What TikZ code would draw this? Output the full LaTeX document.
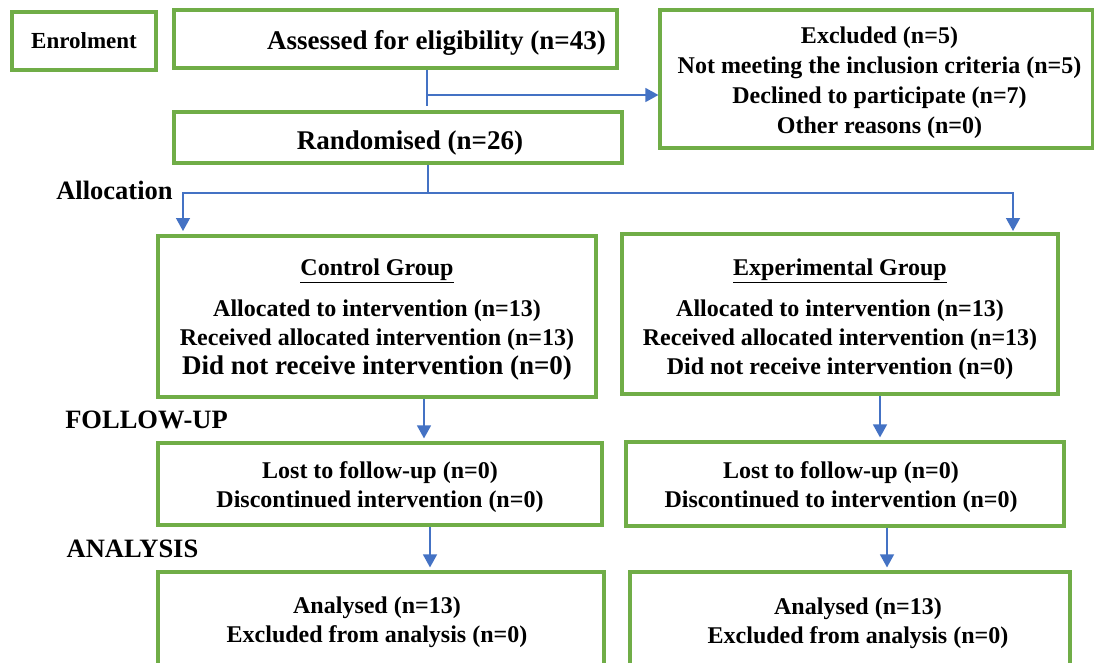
\documentclass[tikz,border=0pt]{standalone}
\usepackage{fontspec}
\setmainfont{Liberation Serif}
\usetikzlibrary{arrows.meta}
\definecolor{boxgreen}{HTML}{70AD47}
\definecolor{arrblue}{HTML}{4472C4}
\begin{document}
\begin{tikzpicture}[x=1pt,y=-1pt,
  box/.style={draw=boxgreen, line width=3.2pt, fill=white, inner sep=0pt},
  txt/.style={inner sep=0pt, align=center, font=\bfseries\fontsize{24}{29}\selectfont},
  conn/.style={draw=arrblue, line width=1.4pt},
  arr/.style={conn, -{Triangle[width=14pt,length=13pt]}},
  lab/.style={font=\bfseries\fontsize{26.5}{30}\selectfont, inner sep=0pt}]
\fill[white] (0,0) rectangle (1094,662);
\clip (0,0) rectangle (1094,662);

% boxes
\node[box, minimum width=144, minimum height=58] (enrol) at (84,41) {};
\node[box, minimum width=443, minimum height=58] (assess) at (395.5,39) {};
\node[box, minimum width=433, minimum height=138] (excl) at (876.5,79) {};
\node[box, minimum width=448, minimum height=51] (rand) at (398,137.5) {};
\node[box, minimum width=438, minimum height=161] (ctrl) at (377,316.5) {};
\node[box, minimum width=436, minimum height=160] (expt) at (840,314) {};
\node[box, minimum width=444, minimum height=82] (lostc) at (380,484) {};
\node[box, minimum width=438, minimum height=84] (loste) at (845,484) {};
\node[box, minimum width=446, minimum height=98] (anac) at (381,621) {};
\node[box, minimum width=440, minimum height=98] (anae) at (850,621) {};

% texts
\node[txt, font=\bfseries\fontsize{23}{27}\selectfont] (tenrol) at (enrol.center) {Enrolment};
\node[txt, font=\bfseries\fontsize{27}{32}\selectfont] (tassess) at ([xshift=41pt,yshift=-4pt]assess.center)
  {Assessed for eligibility (n=43)};
\node[txt, font=\bfseries\fontsize{24}{30}\selectfont] (texcl) at ([xshift=3pt,yshift=-4pt]excl.center)
  {Excluded (n=5)\\Not meeting the inclusion criteria (n=5)\\Declined to participate (n=7)\\Other reasons (n=0)};
\node[txt, font=\bfseries\fontsize{27}{32}\selectfont] (trand) at ([xshift=12pt,yshift=-6pt]rand.center)
  {Randomised (n=26)};
\node[txt] (tctrl) at ([yshift=-3pt]ctrl.center)
  {\underline{Control Group}\\[12pt]Allocated to intervention (n=13)\\Received allocated intervention (n=13)\\
   {\fontsize{27}{31}\selectfont Did not receive intervention (n=0)}};
\node[txt] (texpt) at ([yshift=-5pt]expt.center)
  {\underline{Experimental Group}\\[12pt]Allocated to intervention (n=13)\\Received allocated intervention (n=13)\\
   Did not receive intervention (n=0)};
\node[txt] (tlostc) at ([yshift=-3.5pt]lostc.center)
  {Lost to follow-up (n=0)\\Discontinued intervention (n=0)};
\node[txt] (tloste) at ([xshift=-4pt,yshift=-3.5pt]loste.center)
  {Lost to follow-up (n=0)\\Discontinued to intervention (n=0)};
\node[txt] (tanac) at ([xshift=-4pt,yshift=-1pt]anac.center)
  {Analysed (n=13)\\Excluded from analysis (n=0)};
\node[txt] (tanae) at ([xshift=8pt,yshift=-2pt]anae.center)
  {Analysed (n=13)\\Excluded from analysis (n=0)};

% stage labels
\node[lab] (alloc) at (114.5,190) {Allocation};
\node[lab] (fup) at (146.5,420) {FOLLOW-UP};
\node[lab] (anal) at (132.5,549) {ANALYSIS};

% connectors
\coordinate (j1) at (427,95);
\draw[conn, shorten >=4pt] (assess.south -| j1) -- (rand.north -| j1);
\draw[arr] (j1) -- (excl.west |- j1);

\coordinate (j2) at (428,193);
\coordinate (ca) at (183,231);
\coordinate (ea) at (1013,231);
\draw[conn] (rand.south -| j2) -- (j2);
\draw[arr] (j2) -| (ca);
\draw[arr] (j2) -| (ea);

\coordinate (c1) at (424,0);
\coordinate (c2) at (880,0);
\coordinate (c3) at (430,0);
\coordinate (c4) at (887,0);
\draw[arr, shorten >=3pt] (ctrl.south -| c1) -- (lostc.north -| c1);
\draw[arr, shorten >=3pt] (expt.south -| c2) -- (loste.north -| c2);
\draw[arr, shorten >=3pt] (lostc.south -| c3) -- (anac.north -| c3);
\draw[arr, shorten >=3pt] (loste.south -| c4) -- (anae.north -| c4);
\end{tikzpicture}
\end{document}
